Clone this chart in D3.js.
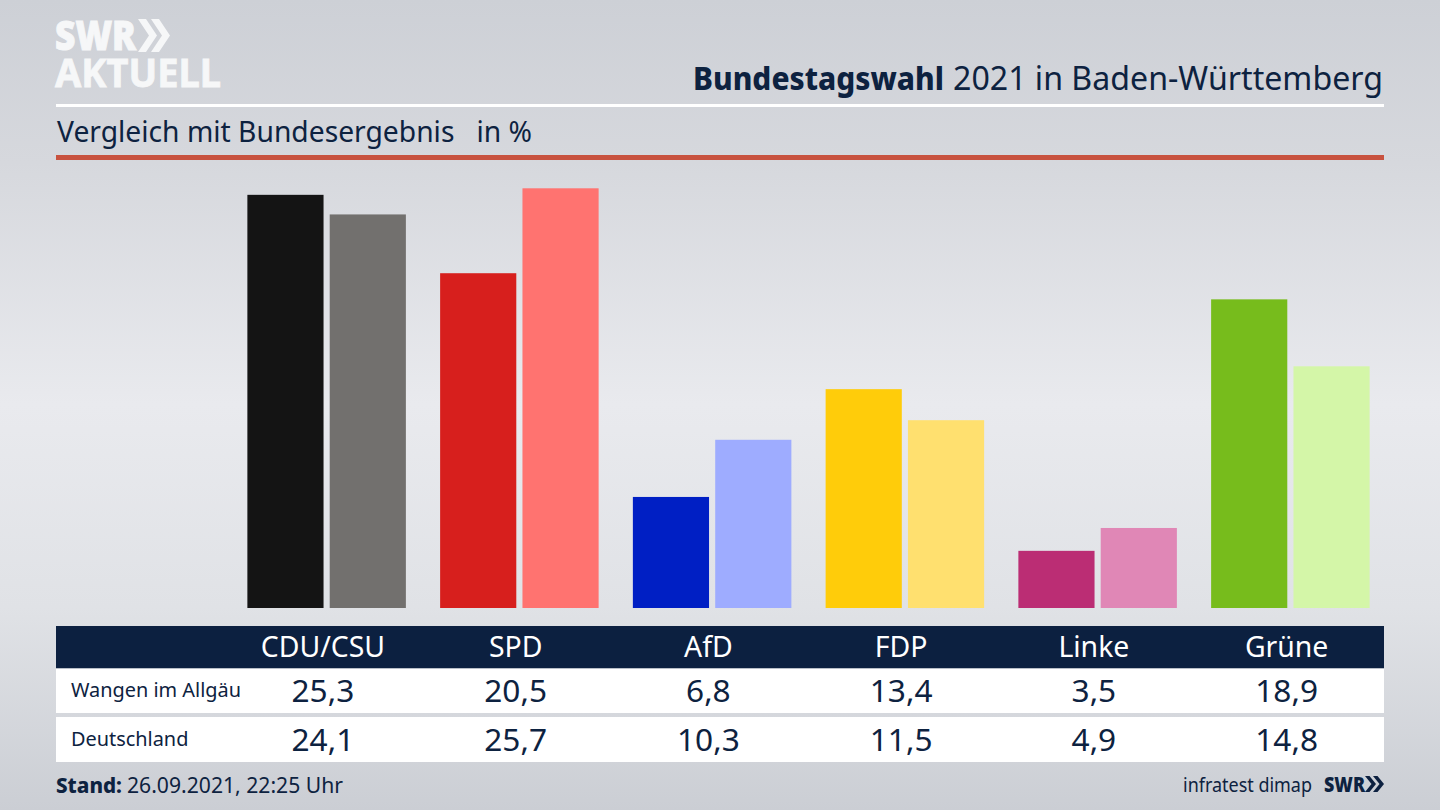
<!DOCTYPE html>
<html><head><meta charset="utf-8">
<script src="https://cdn.jsdelivr.net/npm/d3@7"></script>
<style>html,body{margin:0;padding:0;background:#d5d7dc;overflow:hidden}svg{display:block}text{font-family:"Noto Sans",sans-serif;fill:#0d2240}</style>
</head><body><svg id="c" width="1440" height="810"></svg>
<script>
const parties=["CDU/CSU","SPD","AfD","FDP","Linke","Grüne"];
const seriesNames=["Wangen im Allgäu","Deutschland"];
const wangen=[25.3,20.5,6.8,13.4,3.5,18.9];
const deutschland=[24.1,25.7,10.3,11.5,4.9,14.8];
const colorsA=["#141414","#d71f1d","#001fc4","#ffcc0a","#bb2d74","#77bc1c"];
const colorsB=["#72706e","#ff7370","#9eacff","#ffe06f","#e087b6","#d4f6a8"];

const svg=d3.select("#c");
const defs=svg.append("defs");
const g=defs.append("linearGradient").attr("id","bg").attr("x1",0).attr("y1",0).attr("x2",0).attr("y2",1);
[[0,"#cdd0d6"],[0.2,"#d6d8dd"],[0.5,"#e9eaee"],[0.75,"#e0e2e6"],[1,"#cbced4"]].forEach(d=>g.append("stop").attr("offset",d[0]).attr("stop-color",d[1]));
svg.append("rect").attr("width",1440).attr("height",810).attr("fill","url(#bg)");

const navy="#0c2040";
// Logo
svg.append("text").attr("x",55).attr("y",50).attr("font-size",40).attr("font-weight",900).style("fill","#f6f7f8")
  .attr("stroke","#f6f7f8").attr("stroke-width",1)
  .attr("textLength",81).attr("lengthAdjust","spacingAndGlyphs").text("SWR");
const chev=(x,y,h,w,t,fill)=>svg.append("path").attr("fill",fill)
  .attr("d",`M${x} ${y}h${t}l${w-t} ${h/2}l${-(w-t)} ${h/2}h${-t}l${w-t} ${-h/2}z`);
chev(138,19,33,19,8,"#f6f7f8");chev(151,19,33,19,8,"#f6f7f8");
svg.append("text").attr("x",55).attr("y",87).attr("font-size",40).attr("font-weight",700).style("fill","#f6f7f8")
  .attr("stroke","#f6f7f8").attr("stroke-width",0.8)
  .attr("textLength",166).attr("lengthAdjust","spacingAndGlyphs").text("AKTUELL");

// Title
svg.append("text").attr("x",693).attr("y",90).attr("font-size",32.5).attr("font-weight",800)
  .attr("textLength",251).attr("lengthAdjust","spacingAndGlyphs").text("Bundestagswahl");
svg.append("text").attr("x",953).attr("y",90).attr("font-size",32.5)
  .attr("textLength",430).attr("lengthAdjust","spacingAndGlyphs").text("2021 in Baden-Württemberg");
svg.append("rect").attr("x",56).attr("y",104).attr("width",1328).attr("height",3).attr("fill","#fff");
svg.append("text").attr("x",57).attr("y",142).attr("font-size",29.5).attr("textLength",475).attr("lengthAdjust","spacingAndGlyphs")
  .style("white-space","pre").text("Vergleich mit Bundesergebnis   in %");
svg.append("rect").attr("x",56).attr("y",155).attr("width",1328).attr("height",5).attr("fill","#c8523f");

// Scales
const x=d3.scaleBand().domain(parties).range([226.5,1383]);
const inner=d3.scaleBand().domain([0,1]).range([x.bandwidth()/2-75.5,x.bandwidth()/2+83]).paddingInner(0.075);
const y=d3.scaleLinear().domain([0,25.7]).range([608,188.3]);

const groups=svg.append("g").selectAll("g").data(parties).join("g").attr("transform",d=>`translate(${x(d)},0)`);
groups.selectAll("rect").data((d,i)=>[{s:0,v:wangen[i],c:colorsA[i]},{s:1,v:deutschland[i],c:colorsB[i]}]).join("rect")
  .attr("x",d=>inner(d.s)).attr("width",inner.bandwidth()).attr("y",d=>y(d.v)).attr("height",d=>y(0)-y(d.v)).attr("fill",d=>d.c);

// Table
svg.append("rect").attr("x",56).attr("y",626).attr("width",1328).attr("height",42.5).attr("fill",navy);
svg.append("rect").attr("x",56).attr("y",668.5).attr("width",1328).attr("height",44.5).attr("fill","#fff");
svg.append("rect").attr("x",56).attr("y",717).attr("width",1328).attr("height",45).attr("fill","#fff");
const cx=d=>x(d)+x.bandwidth()/2;
svg.append("g").selectAll("text").data(parties).join("text").attr("x",cx).attr("y",657).attr("text-anchor","middle")
  .attr("font-size",28.4).style("fill","#fff").text(d=>d);
[[wangen,702],[deutschland,751]].forEach(([arr,yy])=>{
  svg.append("g").selectAll("text").data(parties).join("text").attr("x",cx).attr("y",yy).attr("text-anchor","middle")
    .attr("font-size",31.6).text((d,i)=>d3.format(".1f")(arr[i]).replace(".",","));
});
seriesNames.forEach((n,i)=>svg.append("text").attr("x",71).attr("y",[697,746][i]).attr("font-size",19.9).text(n));

// Footer
svg.append("text").attr("x",56).attr("y",793).attr("font-size",22).attr("font-weight",800)
  .attr("textLength",66).attr("lengthAdjust","spacingAndGlyphs").text("Stand:");
svg.append("text").attr("x",127).attr("y",793).attr("font-size",22)
  .attr("textLength",216).attr("lengthAdjust","spacingAndGlyphs").text("26.09.2021, 22:25 Uhr");
svg.append("text").attr("x",1183).attr("y",792).attr("font-size",19.5).attr("textLength",129).attr("lengthAdjust","spacingAndGlyphs").text("infratest dimap");
svg.append("text").attr("x",1324).attr("y",792).attr("font-size",21).attr("font-weight",900).attr("textLength",41).attr("lengthAdjust","spacingAndGlyphs").text("SWR");
chev(1365,776,16,11,4.5,navy);chev(1373,776,16,11,4.5,navy);
</script></body></html>
